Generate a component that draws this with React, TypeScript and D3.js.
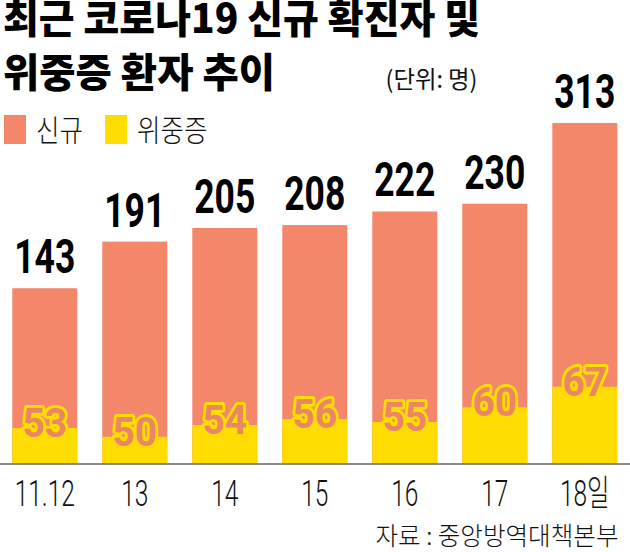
import React from "react";
import * as d3 from "d3";

const dates = ["11.12", "13", "14", "15", "16", "17", "18일"];
const newCases = [143, 191, 205, 208, 222, 230, 313];
const severeCases = [53, 50, 54, 56, 55, 60, 67];
const titleLines = ["최근 코로나19 신규 확진자 및", "위중증 환자 추이"];
const unitText = "(단위: 명)";
const sourceText = "자료 : 중앙방역대책본부";
const legendItems = [
  { label: "신규", color: "#F4866A" },
  { label: "위중증", color: "#FFDD00" },
];

const W = 630;
const H = 552;
const RED = "#F4866A";
const YELLOW = "#FFDD00";
const BASE = 463.3;

export default function App() {
  const x = d3
    .scaleBand<string>()
    .domain(dates)
    .range([12.3, 617.3])
    .paddingInner(0.278)
    .paddingOuter(0);
  const yNew = d3.scaleLinear().domain([-37, 313]).range([BASE, 123]);
  const ySev = d3.scaleLinear().domain([41, 67]).range([BASE, 386.7]);
  const bw = x.bandwidth();
  const kr = "'Noto Sans CJK KR', 'Noto Sans', sans-serif";
  const num = "Roboto, 'Noto Sans CJK KR', sans-serif";

  return (
    <svg
      width={W}
      height={H}
      style={{ position: "absolute", left: 0, top: 0, background: "#fff" }}
    >
      {/* Title */}
      <text
        x={3}
        y={33}
        fontFamily={kr}
        fontWeight={900}
        fontSize={40}
        textLength={477}
        lengthAdjust="spacingAndGlyphs"
        fill="#000"
      >
        {titleLines[0]}
      </text>
      <text
        x={3}
        y={87}
        fontFamily={kr}
        fontWeight={900}
        fontSize={40}
        textLength={272}
        lengthAdjust="spacingAndGlyphs"
        fill="#000"
      >
        {titleLines[1]}
      </text>
      <text
        x={385.5}
        y={88}
        fontFamily={kr}
        fontWeight={400}
        fontSize={24}
        textLength={92}
        lengthAdjust="spacingAndGlyphs"
        fill="#111"
      >
        {unitText}
      </text>

      {/* Legend */}
      {legendItems.map((item, i) => {
        const lx = i === 0 ? 4 : 105;
        return (
          <g key={item.label}>
            <rect x={lx} y={115} width={22} height={29} fill={item.color} />
            <text
              x={lx + 32}
              y={141}
              fontFamily={kr}
              fontWeight={300}
              fontSize={30}
              transform={`translate(${lx + 32},0) scale(0.85,1) translate(${-(lx + 32)},0)`}
              fill="#111"
            >
              {item.label}
            </text>
          </g>
        );
      })}

      {/* Bars */}
      {dates.map((d, i) => {
        const bx = x(d)!;
        const cx = bx + bw / 2;
        const topN = yNew(newCases[i]);
        const topS = ySev(severeCases[i]);
        return (
          <g key={d}>
            <rect x={bx} y={topN} width={bw} height={BASE - topN} fill={RED} />
            <rect x={bx} y={topS} width={bw} height={BASE - topS} fill={YELLOW} />
            <text
              transform={`translate(${cx},${topN - 15}) scale(0.74,1)`}
              textAnchor="middle"
              fontFamily={num}
              fontWeight={700}
              fontSize={48}
              fill="#000"
            >
              {newCases[i]}
            </text>
            <text
              transform={`translate(${cx},${topS + 9}) scale(0.95,1)`}
              textAnchor="middle"
              fontFamily={num}
              fontWeight={700}
              fontSize={41}
              fill="#EC8566"
              stroke={YELLOW}
              strokeWidth={6}
              strokeLinejoin="round"
              paintOrder="stroke"
            >
              {severeCases[i]}
            </text>
            <text
              transform={`translate(${cx},506) scale(0.68,1)`}
              textAnchor="middle"
              fontFamily={num}
              fontWeight={300}
              fontSize={36}
              fill="#111"
            >
              {d}
            </text>
          </g>
        );
      })}

      {/* Axis line */}
      <line x1={0} x2={W} y1={464} y2={464} stroke="#666" strokeWidth={1.5} />

      {/* Source */}
      <text
        x={618.5}
        y={545}
        textAnchor="end"
        fontFamily={kr}
        fontWeight={300}
        fontSize={25}
        textLength={243}
        lengthAdjust="spacingAndGlyphs"
        fill="#111"
      >
        {sourceText}
      </text>
    </svg>
  );
}
